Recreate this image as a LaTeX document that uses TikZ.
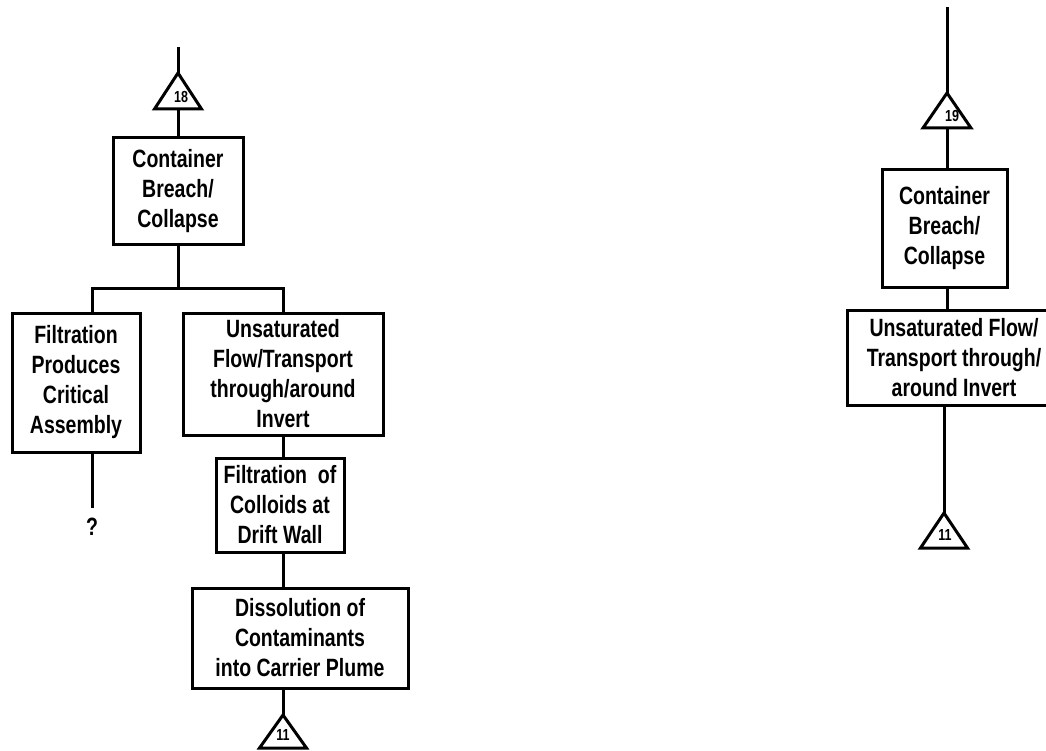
\documentclass[tikz,border=0pt]{standalone}
\usepackage{fontspec}
\setmainfont{Liberation Sans}[FakeStretch=0.78,UprightFont=*-Bold,BoldFont=*-Bold]
\begin{document}
\begin{tikzpicture}[x=1pt,y=-1pt,
  box/.style={draw, line width=3pt, align=center, inner sep=2pt, font=\fontsize{25}{30}\selectfont},
  link/.style={line width=3pt},
  tri/.style={line width=3pt, line join=miter},
  tlab/.style={font=\fontsize{16}{16}\selectfont, inner sep=0pt},
  qlab/.style={font=\fontsize{25}{30}\selectfont, inner sep=0pt}]
\useasboundingbox (0,0) rectangle (1046,751);
\clip (0,0) rectangle (1046,751);

% ---------- left tree ----------
\coordinate (top18) at (178,47);
\coordinate (a18) at (178,73);
\coordinate (b18) at (178,109);
\draw[tri] (154.5,109) -- (a18) -- (201.5,109) -- cycle;
\node[tlab] (t18) at (181,97) {18};

\node[box, minimum width=130pt, minimum height=107pt] (cb1) at (178,191.5) {Container\\Breach/\\Collapse};
\node[box, minimum width=128pt, minimum height=139pt] (fp) at (76,382.5) {Filtration\\Produces\\Critical\\Assembly};
\node[box, minimum width=200pt, minimum height=122pt] (uf) at (283,374) {Unsaturated\\Flow/Transport\\through/around\\Invert};
\node[box, minimum width=128pt, minimum height=94pt] (fc) at (280,505) {Filtration\ \ of\\Colloids at\\Drift Wall};
\node[box, minimum width=216pt, minimum height=100pt] (dc) at (300,638) {Dissolution of\\Contaminants\\into Carrier Plume};

\coordinate (jl) at (92,288);
\coordinate (qend) at (92,508);
\node[qlab] (q) at (92,527) {?};

\coordinate (a11) at (283,715);
\coordinate (b11) at (283,748);
\draw[tri] (259.5,748) -- (a11) -- (306.5,748) -- cycle;
\node[tlab] (t11) at (283,735) {11};

\draw[link] (top18) -- (a18);
\draw[link] (b18) -- (cb1.north);
\draw[link] (cb1.south) -- (cb1.south |- jl);
\draw[link] (fp.north -| jl) |- (uf.north |- jl) -- (uf.north);
\draw[link] (fp.south -| jl) -- (qend);
\draw[link] (uf.south) -- (uf.south |- fc.north);
\draw[link] (fc.south -| uf.south) -- (dc.north -| uf.south);
\draw[link] (dc.south -| a11) -- (a11);

% ---------- right tree ----------
\coordinate (top19) at (947,7);
\coordinate (a19) at (947,93);
\coordinate (b19) at (947,128);
\draw[tri] (923,128) -- (a19) -- (971,128) -- cycle;
\node[tlab] (t19) at (952,116) {19};

\node[box, minimum width=125pt, minimum height=117pt] (cb2) at (944.5,228.5) {Container\\Breach/\\Collapse};
\node[box, minimum width=214pt, minimum height=95pt] (uf2) at (954,357.5) {Unsaturated Flow/\\Transport through/\\around Invert};

\coordinate (a11r) at (944,513);
\coordinate (b11r) at (944,548);
\draw[tri] (920.5,548) -- (a11r) -- (967.5,548) -- cycle;
\node[tlab] (t11r) at (945,535) {11};

\draw[link] (top19) -- (a19);
\draw[link] (b19) -- (b19 |- cb2.north);
\draw[link] (cb2.south -| b19) -- (uf2.north -| b19);
\draw[link] (uf2.south -| a11r) -- (a11r);
\end{tikzpicture}
\end{document}
